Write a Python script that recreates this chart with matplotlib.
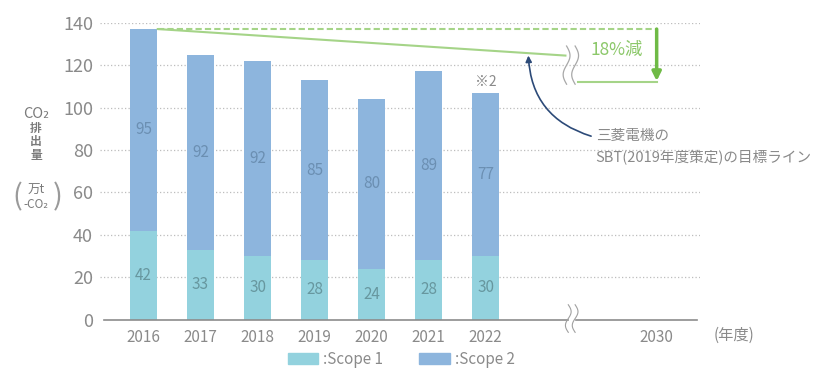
import numpy as np
import matplotlib
matplotlib.use("Agg")
import matplotlib.pyplot as plt
from matplotlib.patches import Patch

plt.rcParams['font.family'] = ['Noto Sans CJK JP', 'DejaVu Sans']

years = ["2016", "2017", "2018", "2019", "2020", "2021", "2022"]
scope1 = [42, 33, 30, 28, 24, 28, 30]
scope2 = [95, 92, 92, 85, 80, 89, 77]
target_year = "2030"
base_total = 137      # 2016 total
target_total = 112    # 2030 SBT target (18% reduction)
line_at_break = 124.5  # where the target line meets the axis break
yticks = [0, 20, 40, 60, 80, 100, 120, 140]

C_S1 = "#93d2de"
C_S2 = "#8db5dd"
C_TXT = "#8a8a8a"
C_GREEN = "#a5d488"
C_GREEN_D = "#6fba46"
C_NAVY = "#2c4a78"

W, H = 836, 371


def px(x, y):
    return x / W, 1 - y / H


fig = plt.figure(figsize=(W / 100, H / 100), dpi=100)
ax = fig.add_axes([100 / W, 1 - 319.6 / H, (700 - 100) / W, (319.6 - 22.7) / H])
ax.set_xlim(-0.763, 9.76)
ax.set_ylim(0, 140)
for s in ax.spines.values():
    s.set_visible(False)

x = np.arange(len(years))
x_target = 9.0
x_break = 7.5

# dotted gridlines
for v in yticks[1:]:
    ax.axhline(v, color="#bdbdbd", lw=0.9, ls=(0, (1, 1.8)), zorder=0)

b1 = ax.bar(x, scope1, width=0.47, color=C_S1, zorder=2)
b2 = ax.bar(x, scope2, width=0.47, bottom=scope1, color=C_S2, zorder=2)
ax.bar_label(b1, labels=[str(v) for v in scope1], label_type="center",
             color="#67979f", fontsize=11)
ax.bar_label(b2, labels=[str(v) for v in scope2], label_type="center",
             color="#6b8fb2", fontsize=11)
tot = np.array(scope1) + np.array(scope2)
ax.text(x[-1], tot[-1] + 1.8, "※2", ha="center", va="bottom", color=C_TXT, fontsize=10)

# axis line with break
ax.plot([-0.69, x_break - 0.06], [0, 0], color="#8c8c8c", lw=1.2, clip_on=False, zorder=3)
ax.plot([x_break + 0.08, 9.71], [0, 0], color="#8c8c8c", lw=1.2, clip_on=False, zorder=3)
t = np.linspace(0, 1, 40)
for dx in (-0.05, 0.07):
    ax.plot(x_break + dx + 0.05 * np.sin(2 * np.pi * t), 7 - 13 * t,
            color="#a0a0a0", lw=0.8, clip_on=False, zorder=4)

# target line
ax.plot([0.25, x_target], [base_total, base_total], color=C_GREEN, lw=1.5,
        ls=(0, (3, 1.5)), zorder=3)
ax.plot([0.25, x_break - 0.1], [base_total, line_at_break], color=C_GREEN, lw=1.5, zorder=3)
ax.plot([x_break + 0.12, x_target], [target_total, target_total], color=C_GREEN, lw=1.5, zorder=3)
for dx in (-0.08, 0.07):
    ax.plot(x_break + dx + 0.06 * np.sin(2 * np.pi * t), 129 - 18 * t,
            color="#a8a8a8", lw=0.9, zorder=4)
ax.annotate("", xy=(x_target, target_total + 0.5), xytext=(x_target, base_total),
            arrowprops=dict(arrowstyle="-|>", lw=2.5, color=C_GREEN_D,
                            mutation_scale=13, shrinkA=0, shrinkB=0), zorder=5)
ax.text(8.3, 127, "18%減", ha="center", va="center", color="#8cc86a", fontsize=12.5)

# SBT annotation
ax.annotate("", xy=(6.75, 124.5), xytext=(7.85, 86.5),
            arrowprops=dict(arrowstyle="-|>", lw=1.2, color=C_NAVY, mutation_scale=9,
                            shrinkA=0, shrinkB=0, connectionstyle="arc3,rad=-0.35"), zorder=5)
ax.text(7.93, 86.5, "三菱電機の", ha="left", va="center", color=C_TXT, fontsize=10.5)
ax.text(7.93, 76.3, "SBT(2019年度策定)の目標ライン", ha="left", va="center", color=C_TXT, fontsize=10.5)

# ticks
ax.set_yticks(yticks)
ax.set_xticks(list(x) + [x_target])
ax.set_xticklabels(years + [target_year])
ax.tick_params(axis="both", length=0, labelcolor=C_TXT)
ax.tick_params(axis="y", pad=5, labelsize=13)
ax.tick_params(axis="x", pad=7, labelsize=11)
ax.text(10.35, -7.6, "(年度)", ha="center", va="center", color=C_TXT, fontsize=11, clip_on=False)

# y axis label
for s, yy, fs in [("CO₂", 114, 10.5), ("排", 129, 8.5), ("出", 142, 8.5), ("量", 155, 8.5),
                  ("万t", 190, 9), ("-CO₂", 205, 8.5)]:
    fig.text(*px(36, yy), s, ha="center", va="center", color="#7a7a7a", fontsize=fs,
             fontweight="bold" if s in ("排", "出", "量") else "normal")
fig.text(*px(17, 197), "(", ha="center", va="center", color="#9a9a9a", fontsize=21)
fig.text(*px(58, 197), ")", ha="center", va="center", color="#9a9a9a", fontsize=21)

# legend
handles = [Patch(color=C_S1), Patch(color=C_S2)]
fig.legend(handles, [":Scope 1", ":Scope 2"], loc="center", bbox_to_anchor=px(401, 359),
           ncol=2, frameon=False, fontsize=11, handlelength=2.0, handleheight=0.75,
           handletextpad=0.3, columnspacing=2.4, labelcolor=C_TXT)

fig.savefig("out.png", dpi=100)
